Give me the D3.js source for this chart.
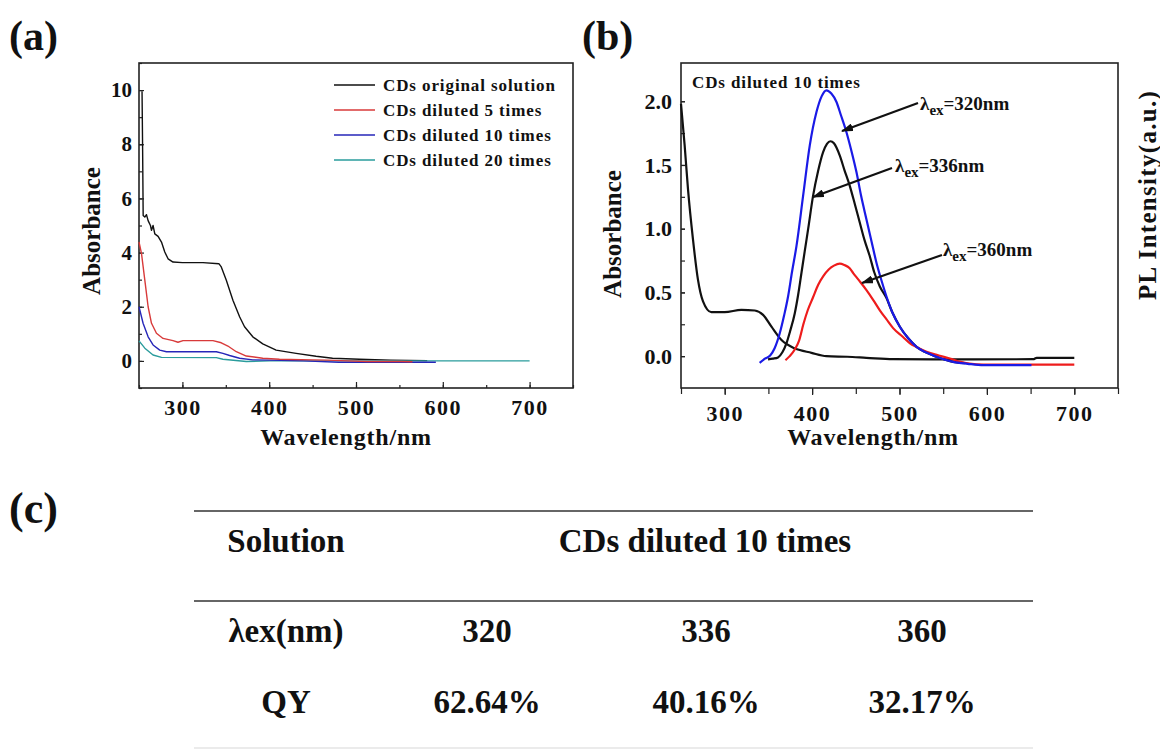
<!DOCTYPE html>
<html><head><meta charset="utf-8">
<script src="https://cdn.jsdelivr.net/npm/d3@7"></script>
<style>
body{margin:0;background:#fff}
svg text{font-family:"Liberation Serif","Times New Roman",serif;font-weight:bold;fill:#111}
</style>
</head><body>
<svg id="c" width="1160" height="751"></svg>
<script>
// ---------- Panel (a) data : UV-vis absorbance ----------
const seriesNamesA = ["CDs original solution","CDs diluted 5 times","CDs diluted 10 times","CDs diluted 20 times"];
const seriesColorsA = ["#111111","#d83a3a","#2626b8","#2a9c9c"];
const origX = [253.5,254.2,254.8,256.7,258.6,260.5,263.2,264.4,266.2,268.2,272,275.9,279.7,283.5,289.2,300,323.7,342,344.8,350.6,358.2,365.9,371.6,381.1,392.6,408,431,454,473,504,540,582];
const origY = [9.96,7.7,5.37,5.31,5.40,5.18,5.0,4.82,5.0,4.69,4.6,4.39,4.02,3.77,3.65,3.63,3.63,3.59,3.47,2.98,2.24,1.63,1.26,0.89,0.63,0.40,0.28,0.17,0.10,0.06,0.03,0.01];
const dil5X = [250,252.9,256.7,260.5,264.4,270.1,277.7,289.2,294.9,300.7,335.2,344.8,352.4,362.1,373.6,392.6,411.8,450,467,490,513,552,565];
const dil5Y = [4.39,3.96,2.98,2.0,1.39,1.02,0.83,0.75,0.69,0.75,0.75,0.67,0.55,0.34,0.18,0.10,0.06,0.04,0.03,0.0,-0.02,-0.02,-0.03];
const dil10X = [250,254.7,260.5,266.2,273.9,281.6,339.1,346.7,354.4,365.9,381.1,400,440,480,513,552,592];
const dil10Y = [2.0,1.39,0.89,0.59,0.40,0.34,0.34,0.28,0.20,0.10,0.04,0.03,0.0,-0.05,-0.05,-0.05,-0.05];
const dil20X = [250,256.7,266.2,275.9,339.1,346.7,373.6,400,700];
const dil20Y = [0.74,0.47,0.22,0.13,0.12,0.06,-0.02,0.0,0.0];

// ---------- Panel (b) data : absorbance + PL (diluted 10 times) ----------
const absX = [250,254.2,258,263.7,269.4,275.2,284.7,300,319.1,334.4,343.9,353.5,365,380.2,399.3,416.4,440,462,492.7,538.6,653,657,700];
const absY = [1.98,1.652,1.31,0.916,0.6,0.429,0.345,0.345,0.363,0.358,0.324,0.231,0.126,0.061,0.026,0.0,-0.005,-0.013,-0.024,-0.026,-0.024,-0.013,-0.013];
const pl336X = [349.6,355,361,366,370.6,375,380.2,384,387.8,391.5,395.4,401.1,406.8,412.6,417,421,425,431.7,437,443.1,449,454.6,460,466,471,477.5,485.1,492,500.4,510,519.5,530,542.4,561.4,575];
const pl336Y = [-0.026,-0.02,-0.01,0.03,0.1,0.2,0.337,0.48,0.652,0.82,0.994,1.257,1.45,1.6,1.665,1.686,1.67,1.573,1.46,1.336,1.19,1.047,0.91,0.784,0.66,0.547,0.455,0.34,0.231,0.14,0.073,0.03,-0.005,-0.045,-0.055];
const pl360X = [369.5,374.4,380,385,390,395,401,407,413,419,425,431.7,437,443,447,453,462,470,477.5,485,492.7,504,512,520,531,545,557.6,570,580,596,700];
const pl360Y = [-0.032,0.0,0.05,0.12,0.25,0.36,0.46,0.56,0.63,0.68,0.71,0.726,0.715,0.69,0.652,0.6,0.52,0.44,0.36,0.29,0.22,0.15,0.1,0.07,0.034,0.005,-0.018,-0.045,-0.058,-0.066,-0.066];
const pl320X = [340,346,352,357,363,368,372.5,377,382.1,389.7,397.3,405,411,416.4,422,427.9,433,439.3,445,450.8,456,462.2,468,473.7,480,485.1,492,500.4,510,519.5,530,542.4,561.4,578,596,651];
const pl320Y = [-0.053,-0.02,0.005,0.06,0.179,0.32,0.468,0.66,0.863,1.257,1.652,1.915,2.04,2.086,2.06,1.994,1.89,1.757,1.61,1.442,1.26,1.073,0.9,0.731,0.58,0.468,0.34,0.231,0.14,0.073,0.03,-0.005,-0.045,-0.06,-0.071,-0.071];
// annotations (data coords): label position, arrow tail, arrow tip
const exLabels = ["320","336","360"];
const exLabelPos = [[523.5,1.93],[494.9,1.448],[549.8,0.782]];
const exArrowTail = [[521.2,1.986],[491.4,1.476],[548.6,0.793]];
const exArrowTip = [[434.2,1.766],[401.0,1.248],[457.1,0.574]];

// ---------- Panel (c) table ----------
const tableHeader = ["Solution","CDs diluted 10 times"];
const tableRowLabels = ["\u03bbex(nm)","QY"];
const exWavelengths = ["320","336","360"];
const quantumYields = ["62.64%","40.16%","32.17%"];

const svg = d3.select("#c");
const zip = (xs, ys) => xs.map((x,i)=>[x, ys[i]]);

// ================= PANEL (a) =================
const xA = d3.scaleLinear().domain([250,750]).range([139,573]);
const yA = d3.scaleLinear().domain([-1,11]).range([388,63]);
const gA = svg.append("g");

// minor ticks
gA.append("g").attr("transform","translate(0,388)")
  .call(d3.axisBottom(xA).tickValues(d3.range(250,751,50)).tickSize(-3).tickFormat(""))
  .call(g=>g.select(".domain").remove());
gA.append("g").attr("transform","translate(0,388)")
  .call(d3.axisBottom(xA).tickValues(d3.range(300,701,100)).tickSize(-6).tickPadding(11))
  .call(g=>g.select(".domain").remove())
  .selectAll("text").attr("font-size",22).style("letter-spacing","1.5px");
gA.append("g").attr("transform","translate(139,0)")
  .call(d3.axisLeft(yA).tickValues(d3.range(-1,12,1)).tickSize(-3).tickFormat(""))
  .call(g=>g.select(".domain").remove());
gA.append("g").attr("transform","translate(139,0)")
  .call(d3.axisLeft(yA).tickValues(d3.range(0,11,2)).tickSize(-5).tickPadding(7))
  .call(g=>g.select(".domain").remove())
  .selectAll("text").attr("font-size",21);
gA.selectAll(".tick line").attr("stroke","#222").attr("stroke-width",1.2);

gA.append("rect").attr("x",139).attr("y",63).attr("width",434).attr("height",325)
  .attr("fill","none").attr("stroke","#222").attr("stroke-width",1.6);

const lineA = d3.line().x(d=>xA(d[0])).y(d=>yA(d[1]));
const dataA = [zip(origX,origY), zip(dil20X,dil20Y), zip(dil10X,dil10Y), zip(dil5X,dil5Y)];
const colA = [seriesColorsA[0], seriesColorsA[3], seriesColorsA[2], seriesColorsA[1]];
dataA.forEach((d,i)=>{
  gA.append("path").datum(d).attr("d",lineA).attr("fill","none")
    .attr("stroke",colA[i]).attr("stroke-width",1.4).attr("stroke-linejoin","round");
});

// legend
const legA = gA.append("g");
seriesNamesA.forEach((name,i)=>{
  const y = 85 + i*25;
  legA.append("line").attr("x1",334).attr("x2",375).attr("y1",y).attr("y2",y)
    .attr("stroke",seriesColorsA[i]).attr("stroke-width",1.6);
  legA.append("text").attr("x",383).attr("y",y+5.5).attr("font-size",17)
    .style("letter-spacing","0.9px").text(name);
});

gA.append("text").attr("transform","translate(100,231) rotate(-90)")
  .attr("text-anchor","middle").attr("font-size",25).text("Absorbance");
gA.append("text").attr("x",346).attr("y",445).attr("text-anchor","middle")
  .attr("font-size",24).style("letter-spacing","0.8px").text("Wavelength/nm");
svg.append("text").attr("x",9).attr("y",50).attr("font-size",42).text("(a)");

// ================= PANEL (b) =================
const xB = d3.scaleLinear().domain([250,750]).range([681,1118]);
const yB = d3.scaleLinear().domain([-0.25,2.3]).range([388,63]);
const gB = svg.append("g");

gB.append("g").attr("transform","translate(0,388)")
  .call(d3.axisBottom(xB).tickValues(d3.range(250,751,50)).tickSize(6).tickFormat(""))
  .call(g=>g.select(".domain").remove());
gB.append("g").attr("transform","translate(0,388)")
  .call(d3.axisBottom(xB).tickValues(d3.range(300,701,100)).tickSize(7).tickPadding(10))
  .call(g=>g.select(".domain").remove())
  .selectAll("text").attr("font-size",22).style("letter-spacing","1.5px");
gB.append("g").attr("transform","translate(681,0)")
  .call(d3.axisLeft(yB).tickValues(d3.range(0,2.01,0.25)).tickSize(-4).tickFormat(""))
  .call(g=>g.select(".domain").remove());
gB.append("g").attr("transform","translate(681,0)")
  .call(d3.axisLeft(yB).tickValues([0,0.5,1.0,1.5,2.0]).tickSize(-4).tickPadding(9).tickFormat(d3.format(".1f")))
  .call(g=>g.select(".domain").remove())
  .selectAll("text").attr("font-size",22);
gB.selectAll(".tick line").attr("stroke","#222").attr("stroke-width",1.2);

gB.append("rect").attr("x",681).attr("y",63).attr("width",437).attr("height",325)
  .attr("fill","none").attr("stroke","#222").attr("stroke-width",1.6);

const lineB = d3.line().curve(d3.curveMonotoneX).x(d=>xB(d[0])).y(d=>yB(d[1]));
const dataB = [zip(absX,absY), zip(pl336X,pl336Y), zip(pl360X,pl360Y), zip(pl320X,pl320Y)];
const colB = ["#111111","#111111","#ee1c1c","#1a1ae6"];
dataB.forEach((d,i)=>{
  gB.append("path").datum(d).attr("d",lineB).attr("fill","none")
    .attr("stroke",colB[i]).attr("stroke-width",2.2).attr("stroke-linejoin","round");
});

// annotations
svg.append("defs").append("marker").attr("id","ah").attr("viewBox","0 0 12 8")
  .attr("refX",11).attr("refY",4).attr("markerWidth",12).attr("markerHeight",8)
  .attr("markerUnits","userSpaceOnUse").attr("orient","auto")
  .append("path").attr("d","M0,0 L12,4 L0,8 Z").attr("fill","#111");

gB.append("text").attr("x",xB(262.6)).attr("y",yB(2.103)).attr("font-size",17)
  .style("letter-spacing","0.9px").text("CDs diluted 10 times");

exLabels.forEach((lab,i)=>{
  gB.append("line")
    .attr("x1",xB(exArrowTail[i][0])).attr("y1",yB(exArrowTail[i][1]))
    .attr("x2",xB(exArrowTip[i][0])).attr("y2",yB(exArrowTip[i][1]))
    .attr("stroke","#111").attr("stroke-width",2.2).attr("marker-end","url(#ah)");
  const t = gB.append("text").attr("x",xB(exLabelPos[i][0])).attr("y",yB(exLabelPos[i][1])).attr("font-size",19);
  t.append("tspan").text("\u03bb");
  t.append("tspan").attr("font-size",15).attr("dy",5).text("ex");
  t.append("tspan").attr("dy",-5).text("=" + lab + "nm");
});

gB.append("text").attr("transform","translate(621,234) rotate(-90)")
  .attr("text-anchor","middle").attr("font-size",25).text("Absorbance");
gB.append("text").attr("transform","translate(1156,195) rotate(-90)")
  .attr("text-anchor","middle").attr("font-size",25).style("letter-spacing","1.3px").text("PL Intensity(a.u.)");
gB.append("text").attr("x",873).attr("y",445).attr("text-anchor","middle")
  .attr("font-size",24).style("letter-spacing","0.8px").text("Wavelength/nm");
svg.append("text").attr("x",582).attr("y",50).attr("font-size",42).text("(b)");

// ================= PANEL (c) table =================
const gC = svg.append("g");
svg.append("text").attr("x",9).attr("y",523).attr("font-size",44).text("(c)");
const colX = d3.scaleOrdinal().domain(exWavelengths).range([487,706,922]);
gC.append("line").attr("x1",194).attr("x2",1033).attr("y1",511).attr("y2",511).attr("stroke","#333").attr("stroke-width",1.5);
gC.append("line").attr("x1",194).attr("x2",1033).attr("y1",601).attr("y2",601).attr("stroke","#333").attr("stroke-width",1.5);
gC.append("line").attr("x1",194).attr("x2",1033).attr("y1",748).attr("y2",748).attr("stroke","#e4e4e4").attr("stroke-width",1.5);
const fs = 33;
gC.append("text").attr("x",286).attr("y",552).attr("text-anchor","middle").attr("font-size",fs).text(tableHeader[0]);
gC.append("text").attr("x",705).attr("y",552).attr("text-anchor","middle").attr("font-size",fs).text(tableHeader[1]);
gC.append("text").attr("x",286).attr("y",642).attr("text-anchor","middle").attr("font-size",fs).text(tableRowLabels[0]);
gC.append("text").attr("x",286).attr("y",713).attr("text-anchor","middle").attr("font-size",fs).text(tableRowLabels[1]);
exWavelengths.forEach((w,i)=>{
  gC.append("text").attr("x",colX(w)).attr("y",642).attr("text-anchor","middle").attr("font-size",fs).text(w);
  gC.append("text").attr("x",colX(w)).attr("y",713).attr("text-anchor","middle").attr("font-size",fs).text(quantumYields[i]);
});
</script>
</body></html>
